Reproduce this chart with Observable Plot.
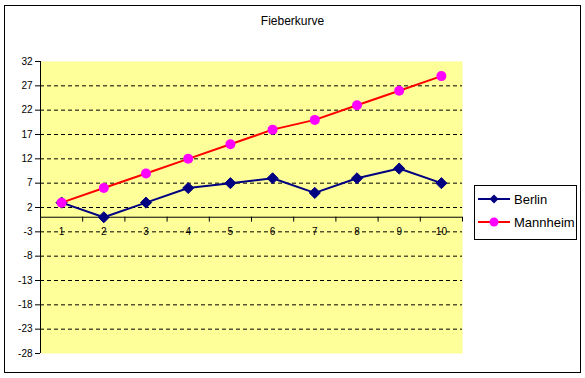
<!DOCTYPE html>
<html>
<head>
<meta charset="utf-8">
<script src="https://cdn.jsdelivr.net/npm/d3@7"></script>
<script src="https://cdn.jsdelivr.net/npm/@observablehq/plot@0.6"></script>
<style>
  html, body { margin: 0; padding: 0; background: #fff; }
  #wrap { position: relative; width: 585px; height: 378px; font-family: "Liberation Sans", Arial, sans-serif; }
  #border { position: absolute; left: 4px; top: 5px; width: 575px; height: 366px; border: 1px solid #000; pointer-events: none; }
  #title { position: absolute; left: 0; top: 14px; width: 585px; text-align: center; font-size: 12px; font-weight: normal; color: #000; }
  #legend { position: absolute; left: 474px; top: 185px; width: 101px; height: 53px; border: 1px solid #000; background: #fff; }
  .item { position: absolute; left: 3px; height: 20px; display: flex; align-items: center; font-size: 13px; color: #000; }
  .item svg { margin-right: 4px; }
</style>
</head>
<body>
<div id="wrap">
  <div id="chart"></div>
  <div id="border"></div>
  <div id="title"></div>
  <div id="legend"></div>
</div>
<script>
const title = "Fieberkurve";
const categories = [1, 2, 3, 4, 5, 6, 7, 8, 9, 10];
const berlin = [3, 0, 3, 6, 7, 8, 5, 8, 10, 7];
const mannheim = [3, 6, 9, 12, 15, 18, 20, 23, 26, 29];
const seriesNames = ["Berlin", "Mannheim"];
const yTicks = [32, 27, 22, 17, 12, 7, 2, -3, -8, -13, -18, -23, -28];

const berlinData = categories.map((c, i) => ({x: c, y: berlin[i]}));
const mannheimData = categories.map((c, i) => ({x: c, y: mannheim[i]}));
const boundaries = categories.map(c => c + 0.5);

const chart = Plot.plot({
  width: 585,
  height: 378,
  marginLeft: 40,
  marginRight: 123,
  marginTop: 61,
  marginBottom: 25,
  style: {fontFamily: "'Liberation Sans', Arial, sans-serif", fontSize: "10px", background: "transparent", color: "#000"},
  x: {domain: [0.5, 10.5], axis: null},
  y: {domain: [-28, 32], axis: null},
  marks: [
    Plot.frame({fill: "#FFFF99", stroke: null}),
    Plot.ruleY(yTicks.filter(d => d < 32 && d > -28), {stroke: "#000", strokeDasharray: "4,3", strokeWidth: 1}),
    Plot.axisY({ticks: yTicks, tickFormat: d => String(d), tickSize: 5, tickPadding: 3, fontSize: 10, stroke: "#000", fill: "#000", label: null}),
    Plot.ruleX([0.5], {stroke: "#000"}),
    Plot.ruleY([0], {stroke: "#000"}),
    Plot.ruleX(boundaries, {x: d => d, y1: 0, y2: -1, stroke: "#000"}),
    Plot.text(categories, {x: d => d, y: 0, dy: 15, text: d => String(d), fontSize: 10, fill: "#000"}),
    Plot.line(berlinData, {x: "x", y: "y", stroke: "#000080", strokeWidth: 2}),
    Plot.dot(berlinData, {x: "x", y: "y", symbol: "diamond2", r: 5, fill: "#000080", stroke: "#000080", strokeWidth: 1}),
    Plot.line(mannheimData, {x: "x", y: "y", stroke: "#FF0000", strokeWidth: 2}),
    Plot.dot(mannheimData, {x: "x", y: "y", symbol: "circle", r: 5, fill: "#FF00FF", stroke: null})
  ]
});
document.getElementById("chart").appendChild(chart);
document.getElementById("title").textContent = title;

const legend = document.getElementById("legend");
const sw = [
  `<svg width="32" height="12"><line x1="0" y1="6" x2="32" y2="6" stroke="#000080" stroke-width="2"/><path d="M16 1.5 L20.5 6 L16 10.5 L11.5 6 Z" fill="#000080"/></svg>`,
  `<svg width="32" height="12"><line x1="0" y1="6" x2="32" y2="6" stroke="#FF0000" stroke-width="2"/><circle cx="16" cy="6" r="4.5" fill="#FF00FF"/></svg>`
];
seriesNames.forEach((name, i) => {
  const div = document.createElement("div");
  div.className = "item";
  div.style.top = (3 + i * 23) + "px";
  div.innerHTML = sw[i] + "<span>" + name + "</span>";
  legend.appendChild(div);
});
</script>
</body>
</html>
